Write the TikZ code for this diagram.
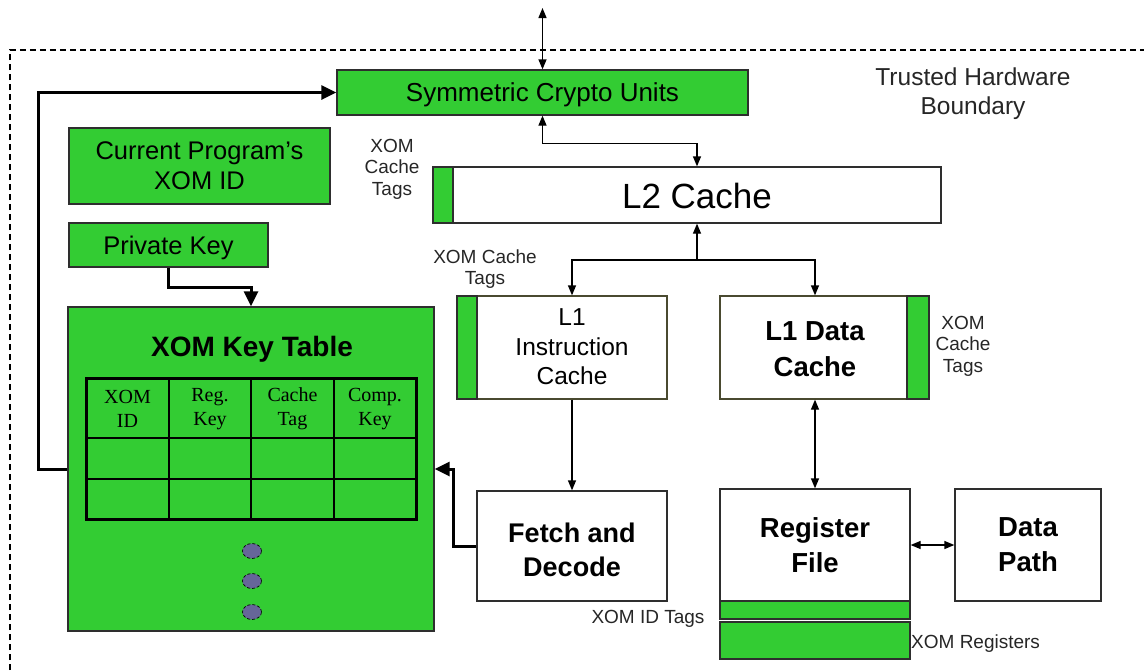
\documentclass[tikz,border=0pt]{standalone}
\usepackage{fontspec}
\setmainfont{Liberation Sans}
\newfontfamily\cellfont{Liberation Serif}
\usetikzlibrary{arrows.meta}
\definecolor{xgreen}{HTML}{33CC33}
\definecolor{dotblue}{HTML}{666699}
\definecolor{edge}{HTML}{2E2E2E}
\definecolor{oliveedge}{HTML}{4A4A30}

\begin{document}
\begin{tikzpicture}[x=1pt,y=-1pt,
  box/.style={draw=edge, line width=1.3pt, inner sep=0pt, align=center},
  gbox/.style={box, fill=xgreen},
  wbox/.style={box, fill=white},
  tagbar/.style={fill=xgreen, draw=edge, line width=1.3pt},
  txt/.style={align=center, inner sep=0pt},
  small/.style={txt, font=\fontsize{19}{21.5}\selectfont, text=black!85},
  mid/.style={txt, font=\fontsize{25}{30}\selectfont},
  bigbold/.style={txt, font=\bfseries\fontsize{27.5}{35}\selectfont},
  cell/.style={txt, font=\cellfont\fontsize{20}{24}\selectfont},
  link/.style={line width=1.3pt, -{Triangle[length=10pt,width=8pt]}},
  link2/.style={line width=1.3pt, {Triangle[length=10pt,width=8pt]}-{Triangle[length=10pt,width=8pt]}},
  heavy/.style={line width=3pt, -{Triangle[length=15pt,width=14pt]}},
  boundary/.style={line width=1.1pt, dash pattern=on 6pt off 4pt},
]
\useasboundingbox (0,0) rectangle (1144,670);

% trusted hardware boundary
\draw[boundary] (10,670) -- (10,50) -- (1144,50);
\node[mid, font=\fontsize{24.5}{29}\selectfont, text=black!85] (thb) at (973,94) {Trusted Hardware\\Boundary};

% crypto units and key storage
\node[gbox, minimum width=411pt, minimum height=45pt, text depth=0pt, font=\fontsize{26}{30}\selectfont] (crypto) at (542.5,92.5) {Symmetric Crypto Units};
\node[gbox, minimum width=261pt, minimum height=76pt, text depth=0pt, font=\fontsize{25.5}{30}\selectfont] (cur) at (199.5,166) {Current Program's\\XOM ID};
\node[gbox, minimum width=199pt, minimum height=44pt, text depth=0pt, font=\fontsize{25.5}{30}\selectfont] (priv) at (168.5,245) {Private Key};

% XOM key table
\node[gbox, minimum width=366pt, minimum height=324pt] (keytable) at (251,469) {};
\node[txt, font=\bfseries\fontsize{28}{32}\selectfont] (kttitle) at (252,349) {XOM Key Table};
\draw[line width=2pt] (169,378) -- (169,519) (251,378) -- (251,519) (334,378) -- (334,519)
  (86,438) -- (416,438) (86,479) -- (416,479);
\draw[line width=3pt] (86,378) rectangle (416,519);
\node[cell] (c1) at (127.5,409) {XOM\\ID};
\node[cell] (c2) at (210,409) {Reg.\\Key};
\node[cell] (c3) at (292.5,409) {Cache\\Tag};
\node[cell] (c4) at (375,409) {Comp.\\Key};
\foreach \yy in {551,581,612}
  \filldraw[fill=dotblue, draw=black, line width=0.7pt, densely dashed] (252,\yy) ellipse [x radius=9.5pt, y radius=7.5pt];

% L2 cache
\node[wbox, minimum width=508pt, minimum height=56pt] (l2) at (687,195) {};
\draw[tagbar] (433,167) rectangle (453,223);
\node[txt, font=\fontsize{35}{40}\selectfont] (l2txt) at (697,196) {L2 Cache};
\node[small] (l2tags) at (392,169) {XOM\\Cache\\Tags};

% L1 instruction cache
\node[wbox, draw=oliveedge, minimum width=210pt, minimum height=103pt] (l1i) at (562,347.5) {};
\draw[tagbar] (457,296) rectangle (477,399);
\node[mid, font=\fontsize{24.5}{29.5}\selectfont] (l1itxt) at (572,347) {L1\\Instruction\\Cache};
\node[small] (l1itags) at (485,269) {XOM Cache\\Tags};

% L1 data cache
\node[wbox, draw=oliveedge, minimum width=209pt, minimum height=103pt] (l1d) at (824.5,347.5) {};
\draw[tagbar] (907,296) rectangle (929,399);
\node[bigbold, font=\bfseries\fontsize{27.5}{36}\selectfont] (l1dtxt) at (815,349) {L1 Data\\Cache};
\node[small] (l1dtags) at (963,346) {XOM\\Cache\\Tags};

% fetch and decode
\node[wbox, minimum width=190pt, minimum height=110pt] (fetch) at (572,546) {};
\node[bigbold, font=\bfseries\fontsize{27}{34}\selectfont] (fetchtxt) at (572,550) {Fetch and\\Decode};
\node[small] (idtags) at (648,619) {XOM ID Tags};

% register file and data path
\node[wbox, minimum width=190pt, minimum height=112pt] (reg) at (815,545) {};
\node[bigbold] (regtxt) at (815,545) {Register\\File};
\node[gbox, minimum width=190pt, minimum height=18pt] (regtags) at (815,610) {};
\node[gbox, minimum width=190pt, minimum height=37pt] (xreg) at (815,640.5) {};
\node[small, anchor=west] (xregtxt) at (911,644) {XOM Registers};
\node[wbox, minimum width=146pt, minimum height=112pt] (dp) at (1028,545) {};
\node[bigbold] (dptxt) at (1028,545) {Data\\Path};

% connectors
\coordinate (ext) at (542.5,8);
\coordinate (split) at (697,260);
\draw[link2] (ext) -- (crypto.north);
\draw[link2] (crypto.south) -- ++(0,28) -| (l2txt |- l2.north);
\draw[link] (split) -- (l2txt |- l2.south);
\draw[link] (split) -| (l1itxt |- l1i.north);
\draw[link] (split) -| (l1dtxt |- l1d.north);
\draw[link] (l1itxt |- l1i.south) -- (fetch.north);
\draw[link2] (l1dtxt |- l1d.south) -- (reg.north);
\draw[link2] (reg.east) -- (dp.west);
\draw[heavy] (fetch.west) -- ++(-23,0) |- (keytable.east);
\draw[heavy] (keytable.west) -- ++(-29,0) |- (crypto.west);
\draw[heavy] (priv.south) -- ++(0,20) -| (keytable.north);
\end{tikzpicture}
\end{document}
